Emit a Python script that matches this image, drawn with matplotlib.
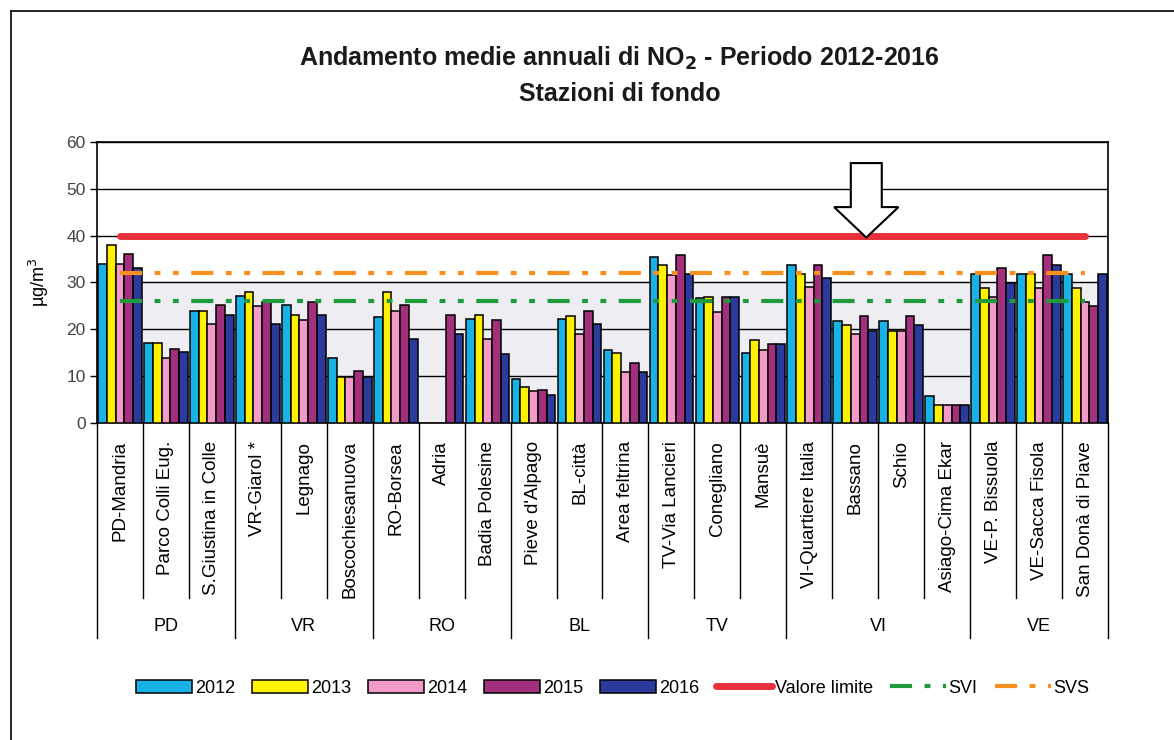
import numpy as np
import matplotlib
matplotlib.use('Agg')
import matplotlib.pyplot as plt
from matplotlib.patches import Polygon, Patch
from matplotlib.lines import Line2D

plt.rcParams['font.family'] = ['Liberation Sans', 'DejaVu Sans']

# Stations grouped by province
stations = ['PD-Mandria', 'Parco Colli Eug.', 'S.Giustina in Colle',
            'VR-Giarol *', 'Legnago', 'Boscochiesanuova',
            'RO-Borsea', 'Adria', 'Badia Polesine',
            "Pieve d'Alpago", 'BL-città', 'Area feltrina',
            'TV-Via Lancieri', 'Conegliano', 'Mansuè',
            'VI-Quartiere Italia', 'Bassano', 'Schio', 'Asiago-Cima Ekar',
            'VE-P. Bissuola', 'VE-Sacca Fisola', 'San Donà di Piave']
provinces = ['PD', 'VR', 'RO', 'BL', 'TV', 'VI', 'VE']
province_sizes = [3, 3, 3, 3, 3, 4, 3]

years = ['2012', '2013', '2014', '2015', '2016']
nan = np.nan
no2_2012 = [34.0, 17.0, 23.9, 27.1, 25.1, 13.9, 22.7, nan, 22.2, 9.3, 22.2, 15.6,
            35.4, 26.7, 14.9, 33.8, 21.7, 21.7, 5.8, 31.9, 31.8, 31.8]
no2_2013 = [38.1, 17.0, 23.9, 27.9, 23.1, 9.9, 27.9, nan, 23.1, 7.7, 22.9, 15.0,
            33.8, 27.0, 17.8, 31.9, 20.9, 19.7, 3.9, 28.8, 31.8, 28.8]
no2_2014 = [34.0, 13.9, 21.1, 25.0, 21.9, 9.9, 23.9, nan, 17.9, 6.8, 18.9, 10.9,
            31.5, 23.6, 15.5, 29.0, 18.9, 19.7, 3.9, 26.8, 28.8, 25.8]
no2_2015 = [36.1, 15.9, 25.1, 25.9, 25.9, 11.1, 25.1, 23.1, 22.0, 7.0, 23.9, 12.9,
            35.9, 27.0, 16.9, 33.8, 22.9, 22.9, 3.9, 33.1, 35.9, 24.9]
no2_2016 = [33.2, 15.1, 23.1, 21.1, 23.1, 9.9, 17.9, 19.1, 14.7, 5.9, 21.1, 10.9,
            31.9, 27.0, 16.9, 31.0, 19.7, 21.0, 3.9, 29.8, 33.8, 31.8]
series = [no2_2012, no2_2013, no2_2014, no2_2015, no2_2016]

valore_limite = 40
svs = 32
svi = 26

bar_colors = ['#18b2e6', '#fff200', '#f29ac8', '#a3307c', '#2c3a9c']
dash_dot_dot = (5.3, 3, 1.4, 3, 1.4, 3)

fig = plt.figure(figsize=(11.74, 7.4), dpi=100)
ax = fig.add_axes([0.0826, 0.4284, 0.8612, 0.3797])

x = np.arange(len(stations))
w = 0.19
for k, (vals, col) in enumerate(zip(series, bar_colors)):
    ax.bar(x + (k - 2) * w, vals, width=w, color=col, edgecolor='black',
           linewidth=1.1, zorder=3)

# limit values
ax.plot([x[0], x[-1]], [valore_limite] * 2, color='#e8313c', lw=5,
        solid_capstyle='round', zorder=4)
ax.plot([x[0], x[-1]], [svs] * 2, color='#f7901e', lw=3,
        dashes=dash_dot_dot, zorder=4)
ax.plot([x[0], x[-1]], [svi] * 2, color='#1f9a3c', lw=3,
        dashes=dash_dot_dot, zorder=4)

ax.set_xlim(-0.5, len(stations) - 0.5)
ax.set_ylim(0, 60)
ax.set_yticks(range(0, 61, 10))
ax.tick_params(axis='y', labelsize=12.5, labelcolor='#444444', length=5,
               width=1, pad=3)
ax.set_xticks([])
ax.yaxis.grid(True, color='black', lw=1)
ax.set_axisbelow(True)
ax.axhspan(0, 30, color='#ededf2', zorder=0)
for s in ax.spines.values():
    s.set_linewidth(1.2)

# hollow arrow pointing to the limit line
ax_x, hs, hh = 16.24, 0.337, 0.70
arrow = Polygon([(ax_x - hs, 55.5), (ax_x + hs, 55.5), (ax_x + hs, 46.1),
                 (ax_x + hh, 46.1), (ax_x, 39.6), (ax_x - hh, 46.1),
                 (ax_x - hs, 46.1)], closed=True, facecolor='white',
                edgecolor='black', lw=1.5, zorder=5)
ax.add_patch(arrow)

# two-level category axis
tr = ax.get_xaxis_transform()
for i, name in enumerate(stations):
    ax.text(i, -0.064, name, rotation=90, ha='center', va='top',
            fontsize=13.5, transform=tr)
bounds = np.concatenate([[0], np.cumsum(province_sizes)]) - 0.5
for b in np.arange(0.5, len(stations) - 1):
    if b not in bounds:
        ax.plot([b, b], [0, -0.623], color='black', lw=1, transform=tr,
                clip_on=False)
for b in bounds:
    ax.plot([b, b], [0, -0.765], color='black', lw=1, transform=tr,
            clip_on=False)
for prov, lo, hi in zip(provinces, bounds[:-1], bounds[1:]):
    ax.text((lo + hi) / 2, -0.726, prov, ha='center', va='center',
            fontsize=13, transform=tr)

ax.set_ylabel('µg/m$^3$', fontsize=13)
ax.yaxis.set_label_coords(-0.045, 0.5)

fig.text(0.528, 0.921, 'Andamento medie annuali di NO$_\\mathbf{2}$ - Periodo 2012-2016',
         ha='center', va='center', fontsize=18, fontweight='bold', color='#1a1a1a')
fig.text(0.528, 0.873, 'Stazioni di fondo', ha='center', va='center',
         fontsize=18, fontweight='bold', color='#1a1a1a')

handles = [Patch(facecolor=c, edgecolor='black', lw=1.1) for c in bar_colors]
handles += [Line2D([], [], color='#e8313c', lw=5, solid_capstyle='round'),
            Line2D([], [], color='#1f9a3c', lw=3, dashes=dash_dot_dot),
            Line2D([], [], color='#f7901e', lw=3, dashes=dash_dot_dot)]
labels = years + ['Valore limite', 'SVI', 'SVS']
fig.legend(handles, labels, loc='center', bbox_to_anchor=(0.522, 0.07), ncol=8,
           frameon=False, fontsize=13, handlelength=3.1, handleheight=0.7,
           handletextpad=0.15, columnspacing=0.95)

# outer frame of the page
fig.add_artist(Line2D([11 / 1174, 11 / 1174], [0, 1 - 11 / 740], color='black', lw=1.2))
fig.add_artist(Line2D([11 / 1174, 1], [1 - 11 / 740, 1 - 11 / 740], color='black', lw=1.2))

fig.savefig('out.png', dpi=100)
